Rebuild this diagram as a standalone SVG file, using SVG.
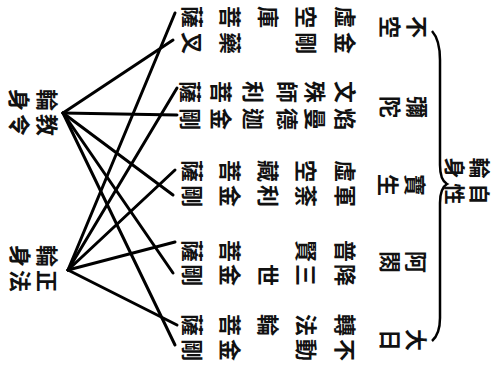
<svg xmlns="http://www.w3.org/2000/svg" width="497" height="372" viewBox="0 0 497 372">
<style>
text{font-family:"Noto Sans CJK TC","Noto Sans CJK JP",sans-serif;font-size:22px;font-weight:700;fill:#111;text-anchor:middle;dominant-baseline:central}
.lbl{font-size:21px}
.c{stroke:#000;stroke-width:3;fill:none;stroke-linecap:round}
.b{stroke:#000;stroke-width:2.5;fill:none}
</style>
<rect width="497" height="372" fill="#fff"/>
<g id="connectors">
<path class="b" d="M432,31 Q440,40 440,60 L440,165 Q440,180 447,184 Q440,188 440,203 L440,318 Q440,334 432,341"/>
<g class="c">
<line x1="63" y1="113" x2="173" y2="40"/>
<line x1="63" y1="113" x2="177" y2="115"/>
<line x1="63" y1="113" x2="173" y2="195"/>
<line x1="63" y1="113" x2="173" y2="273"/>
<line x1="63" y1="113" x2="175" y2="345"/>
<line x1="68" y1="270" x2="175" y2="13"/>
<line x1="68" y1="270" x2="177" y2="88"/>
<line x1="68" y1="270" x2="175" y2="170"/>
<line x1="68" y1="270" x2="175" y2="242"/>
<line x1="68" y1="270" x2="177" y2="325"/>
</g>
</g>
<g id="jishorinjin" class="lbl">
<text class="lbl" transform="translate(481 168) rotate(90)">輪</text>
<text class="lbl" transform="translate(481 194) rotate(90)">自</text>
<text class="lbl" transform="translate(456 168) rotate(90)">身</text>
<text class="lbl" transform="translate(456 194) rotate(90)">性</text>
</g>
<g id="kyoryorinjin">
<text transform="translate(49 100) rotate(90)">輪</text>
<text transform="translate(49 125) rotate(90)">教</text>
<text transform="translate(21 100) rotate(90)">身</text>
<text transform="translate(21 125) rotate(90)">令</text>
</g>
<g id="shohorinjin">
<text transform="translate(49 256) rotate(90)">輪</text>
<text transform="translate(49 281) rotate(90)">正</text>
<text transform="translate(22 256) rotate(90)">身</text>
<text transform="translate(22 281) rotate(90)">法</text>
</g>
<g id="buddha-fukuu">
<text transform="translate(419 27) rotate(90)">不</text>
<text transform="translate(392 27) rotate(90)">空</text>
</g>
<g id="buddha-mida">
<text transform="translate(419 107) rotate(90)">彌</text>
<text transform="translate(392 107) rotate(90)">陀</text>
</g>
<g id="buddha-hosho">
<text transform="translate(417 185) rotate(90)">寶</text>
<text transform="translate(390 185) rotate(90)">生</text>
</g>
<g id="buddha-ashuku">
<text transform="translate(418 262) rotate(90)">阿</text>
<text transform="translate(392 262) rotate(90)">閦</text>
</g>
<g id="buddha-dainichi">
<text transform="translate(418 340) rotate(90)">大</text>
<text transform="translate(392 340) rotate(90)">日</text>
</g>
<g id="fukuu-bosatsu">
<text transform="translate(347 17) rotate(90)">虛</text>
<text transform="translate(308 17) rotate(90)">空</text>
<text transform="translate(270 17) rotate(90)">庫</text>
<text transform="translate(232 17) rotate(90)">菩</text>
<text transform="translate(194 17) rotate(90)">薩</text>
</g>
<g id="fukuu-myoo">
<text transform="translate(347 43) rotate(90)">金</text>
<text transform="translate(308 43) rotate(90)">剛</text>
<text transform="translate(232 43) rotate(90)">藥</text>
<text transform="translate(194 43) rotate(90)">叉</text>
</g>
<g id="mida-bosatsu">
<text transform="translate(347 92) rotate(90)">文</text>
<text transform="translate(317 92) rotate(90)">殊</text>
<text transform="translate(289 92) rotate(90)">師</text>
<text transform="translate(255 92) rotate(90)">利</text>
<text transform="translate(223 92) rotate(90)">菩</text>
<text transform="translate(192 92) rotate(90)">薩</text>
</g>
<g id="mida-myoo">
<text transform="translate(347 119) rotate(90)">焰</text>
<text transform="translate(317 119) rotate(90)">曼</text>
<text transform="translate(289 119) rotate(90)">德</text>
<text transform="translate(255 119) rotate(90)">迦</text>
<text transform="translate(223 119) rotate(90)">金</text>
<text transform="translate(192 119) rotate(90)">剛</text>
</g>
<g id="hosho-bosatsu">
<text transform="translate(347 171) rotate(90)">虛</text>
<text transform="translate(308 171) rotate(90)">空</text>
<text transform="translate(270 171) rotate(90)">藏</text>
<text transform="translate(232 171) rotate(90)">菩</text>
<text transform="translate(194 171) rotate(90)">薩</text>
</g>
<g id="hosho-myoo">
<text transform="translate(347 196) rotate(90)">軍</text>
<text transform="translate(308 196) rotate(90)">荼</text>
<text transform="translate(270 196) rotate(90)">利</text>
<text transform="translate(232 196) rotate(90)">金</text>
<text transform="translate(194 196) rotate(90)">剛</text>
</g>
<g id="ashuku-bosatsu">
<text transform="translate(347 251) rotate(90)">普</text>
<text transform="translate(308 251) rotate(90)">賢</text>
<text transform="translate(232 251) rotate(90)">菩</text>
<text transform="translate(194 251) rotate(90)">薩</text>
</g>
<g id="ashuku-myoo">
<text transform="translate(347 275) rotate(90)">降</text>
<text transform="translate(308 275) rotate(90)">三</text>
<text transform="translate(270 275) rotate(90)">世</text>
<text transform="translate(232 275) rotate(90)">金</text>
<text transform="translate(194 275) rotate(90)">剛</text>
</g>
<g id="dainichi-bosatsu">
<text transform="translate(347 325) rotate(90)">轉</text>
<text transform="translate(308 325) rotate(90)">法</text>
<text transform="translate(270 325) rotate(90)">輪</text>
<text transform="translate(232 325) rotate(90)">菩</text>
<text transform="translate(194 325) rotate(90)">薩</text>
</g>
<g id="dainichi-myoo">
<text transform="translate(347 350) rotate(90)">不</text>
<text transform="translate(308 350) rotate(90)">動</text>
<text transform="translate(232 350) rotate(90)">金</text>
<text transform="translate(194 350) rotate(90)">剛</text>
</g>
</svg>
